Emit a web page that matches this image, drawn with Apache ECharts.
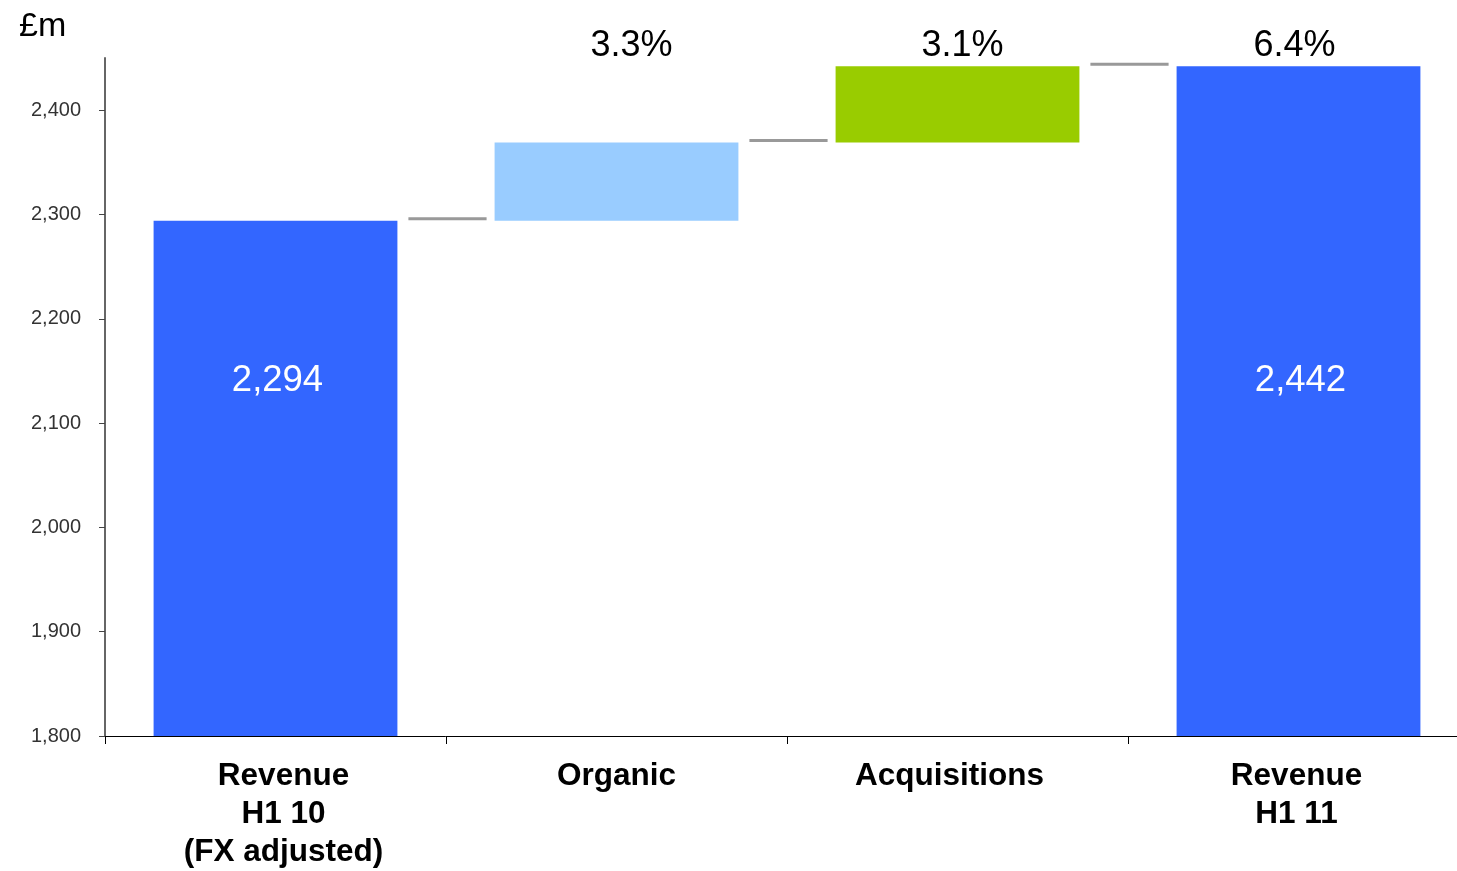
<!DOCTYPE html>
<html>
<head>
<meta charset="utf-8">
<title>Revenue bridge H1 10 to H1 11</title>
<script src="https://cdn.jsdelivr.net/npm/echarts@6/dist/echarts.min.js"></script>
<style>
  html, body { margin: 0; padding: 0; background: #ffffff; overflow: hidden; }
  /* the plot runs slightly past the right edge of the page */
  #chart { width: 1469px; height: 871px; }
</style>
</head>
<body>
<div id="chart"></div>
<script>
// Revenue bridge (£m): opening revenue, organic and acquisition growth, closing revenue
const categories = ['Revenue\nH1 10\n(FX adjusted)', 'Organic', 'Acquisitions', 'Revenue\nH1 11'];
const openingRevenue = 2294;
const organicGrowth = 75;
const acquisitionGrowth = 73;
const closingRevenue = 2442;
const growthLabels = ['3.3%', '3.1%', '6.4%'];
const yTicks = [1800, 1900, 2000, 2100, 2200, 2300, 2400];
const axisMin = 1800;
const axisMax = 2450;

// colours and placement tweaks
const TOTAL_BLUE = '#3366FF';
const ORGANIC_BLUE = '#99CCFF';
const ACQ_GREEN = '#99CC00';
const BAR_RATIO = 0.715;
const VALUE_LABEL_LEVEL = 2140;
const LABEL_STYLES = ['right8', 'plain', 'left8', 'left2'];

const fmt = v => v.toLocaleString('en-GB');

// each bar: [category index, low, high, colour, inside label]
const afterOrganic = openingRevenue + organicGrowth;
const bars = [
  [0, axisMin, openingRevenue, TOTAL_BLUE, fmt(openingRevenue)],
  [1, openingRevenue, afterOrganic, ORGANIC_BLUE, ''],
  [2, afterOrganic, afterOrganic + acquisitionGrowth, ACQ_GREEN, ''],
  [3, axisMin, closingRevenue, TOTAL_BLUE, fmt(closingRevenue)]
];

// connector levels between neighbouring bars
const connectors = [
  [0, openingRevenue],
  [1, afterOrganic],
  [2, closingRevenue]
];

// growth percentages above categories 1..3
const growthItems = growthLabels.map((t, i) => [i + 1, t]);
const growthDx = [15, 5, -4];

const catFont = { fontFamily: 'Liberation Sans, Arial, sans-serif', fontSize: 31.5, fontWeight: 'bold', lineHeight: 38, color: '#000' };

const chart = echarts.init(document.getElementById('chart'), null, { renderer: 'canvas' });

chart.setOption({
  animation: false,
  backgroundColor: '#ffffff',
  title: {
    text: '£m',
    left: 14,
    top: 5,
    textStyle: { fontFamily: 'Liberation Sans, Arial, sans-serif', fontSize: 34, fontWeight: 'normal', color: '#000' }
  },
  grid: { left: 105, top: 58, right: 0, bottom: 134, containLabel: false },
  xAxis: {
    type: 'category',
    data: categories,
    boundaryGap: true,
    axisLine: { lineStyle: { color: '#000', width: 1 } },
    axisTick: { show: true, length: 8, lineStyle: { color: '#000' } },
    axisLabel: Object.assign({
      interval: 0,
      margin: 21,
      formatter: (v, idx) => {
        const s = LABEL_STYLES[idx] || 'plain';
        return v.split('\n').map(line => '{' + s + '|' + line + '}').join('\n');
      },
      rich: {
        plain: Object.assign({}, catFont),
        right8: Object.assign({ padding: [0, 0, 0, 16] }, catFont),
        left8: Object.assign({ padding: [0, 16, 0, 0] }, catFont),
        left2: Object.assign({ padding: [0, 4, 0, 0] }, catFont)
      }
    }, catFont),
    splitLine: { show: false }
  },
  yAxis: {
    type: 'value',
    min: axisMin,
    max: axisMax,
    interval: 100,
    axisLine: { show: true, lineStyle: { color: '#666', width: 2 } },
    axisTick: { show: true, length: 6, customValues: yTicks, lineStyle: { color: '#444' } },
    axisLabel: {
      customValues: yTicks,
      margin: 24,
      fontFamily: 'Liberation Sans, Arial, sans-serif',
      fontSize: 20,
      color: '#333',
      formatter: v => fmt(v)
    },
    splitLine: { show: false }
  },
  series: [
    {
      type: 'custom',
      name: 'bars',
      data: bars,
      encode: { x: 0, y: [1, 2] },
      renderItem: (params, api) => {
        const i = api.value(0);
        const lo = api.coord([i, api.value(1)]);
        const hi = api.coord([i, api.value(2)]);
        const band = api.size([1, 0])[0];
        const w = band * BAR_RATIO;
        const item = bars[params.dataIndex];
        const children = [{
          type: 'rect',
          shape: { x: lo[0] - w / 2, y: hi[1], width: w, height: lo[1] - hi[1] },
          style: { fill: item[3] }
        }];
        if (item[4]) {
          const p = api.coord([i, VALUE_LABEL_LEVEL]);
          children.push({
            type: 'text',
            style: {
              x: p[0] + 2, y: p[1], text: item[4],
              fill: '#ffffff',
              font: '36.5px "Liberation Sans", Arial, sans-serif',
              align: 'center', verticalAlign: 'middle'
            }
          });
        }
        return { type: 'group', children };
      },
      z: 2
    },
    {
      type: 'custom',
      name: 'connectors',
      data: connectors,
      encode: { x: 0, y: 1 },
      renderItem: (params, api) => {
        const i = api.value(0);
        const level = api.value(1);
        const a = api.coord([i, level]);
        const b = api.coord([i + 1, level]);
        const band = api.size([1, 0])[0];
        const half = band * BAR_RATIO / 2;
        return {
          type: 'line',
          shape: { x1: a[0] + half + 11, y1: a[1] - 2, x2: b[0] - half - 8, y2: b[1] - 2 },
          style: { stroke: '#999999', lineWidth: 3 }
        };
      },
      z: 3
    },
    {
      type: 'custom',
      name: 'growth',
      data: growthItems,
      encode: { x: 0 },
      clip: false,
      renderItem: (params, api) => {
        const i = api.value(0);
        const p = api.coord([i, axisMax]);
        return {
          type: 'text',
          style: {
            x: p[0] + growthDx[params.dataIndex], y: p[1] - 12,
            text: growthItems[params.dataIndex][1],
            fill: '#000000',
            font: '36px "Liberation Sans", Arial, sans-serif',
            align: 'center', verticalAlign: 'middle'
          }
        };
      },
      z: 4
    }
  ]
});
</script>
</body>
</html>
